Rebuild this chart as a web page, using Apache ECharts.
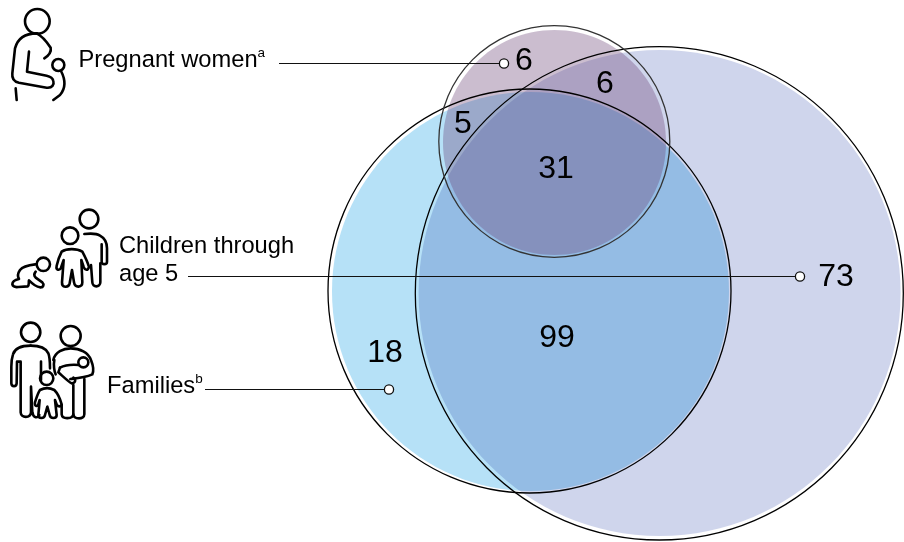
<!DOCTYPE html>
<html>
<head>
<meta charset="utf-8">
<title>Overlap of eligible groups</title>
<style>html,body{margin:0;padding:0;background:#fff}#chart{width:904px;height:542px}</style>
<script src="https://cdn.jsdelivr.net/npm/echarts@6/dist/echarts.min.js"></script>
</head>
<body>
<div id="chart"></div>
<script>
// Venn regions: the count printed inside each one and where it is printed
const regionValues = [6, 6, 5, 31, 99, 73, 18];
const regionX = [524, 605, 463, 556, 557, 836, 385];
const regionY = [61, 84, 124, 169, 338, 277, 353];

// The three sets, in drawing order: children, families, pregnant women
const setCentreX = [659.3, 529.5, 554.3];
const setCentreY = [293.3, 291, 141.5];
const setRadiusX = [244, 201.5, 115.5];
const setRadiusY = [246.7, 202, 115.8];
const fillCentreX = [659.6, 530.5, 554.5];
const fillCentreY = [293, 291.5, 142.5];
const fillRadiusX = [241, 198.5, 111.5];
const fillRadiusY = [243, 199.5, 112.5];
const setColours = ['#CFD5EC', '#B6E1F7', 'rgba(106,66,118,0.35)'];
const setOutlines = ['#000', '#000', '#333'];

// Leader lines from the group names to their marker dots
const leaderStartX = [279, 188, 205];
const leaderEndX = [504, 800, 389];
const leaderY = [63.5, 276.5, 389.5];

const STROKE = '#000';
const FONT = '"Liberation Sans", Arial, sans-serif';

function icon(x, y, paths, circles) {
  return { x, y, paths, circles };
}

const pregnantIcon = icon(5, 5, [
  'M95 85 C60 85 38 100 30 130 L22 205 C20 222 28 230 42 233 L125 248 C142 250 148 238 145 228 C143 218 135 214 125 212 L66 200 L72 140',
  'M95 85 C110 92 125 110 137 128 C140 142 130 152 118 160',
  'M168 198 C182 225 182 250 165 270 L145 285',
  'M32 250 L35 285'
], [[97, 49, 37], [160, 180, 18]]);

const childrenIcon = icon(5, 205, [
  'M238 87 C255 85 275 85 285 92 C300 100 306 115 306 130 L306 170 C306 180 290 180 290 170 L290 118',
  'M286 175 L286 232 C286 248 262 248 262 232 L258 180',
  'M170 140 C185 130 215 130 232 140 C240 155 248 172 252 186 C248 198 240 196 236 186 L229 165 L232 232 C232 248 210 250 207 232 L201 195 L194 235 C190 250 170 248 171 232 L176 165 L168 188 C164 198 152 196 155 182 C158 168 165 150 170 140 Z',
  'M92 178 C75 180 55 182 45 195 C38 205 36 212 42 222 C32 224 22 230 22 238 C24 248 32 247 40 246 L68 244 C74 240 70 230 72 226 C82 236 92 245 105 247 C116 248 118 238 112 232 L92 218 C86 212 88 205 92 200'
], [[252, 42, 28], [195, 92, 25], [115, 178, 20]]);

const familiesIcon = icon(5, 315, [
  'M77 92 C50 92 30 98 24 118 C20 130 19 145 19 155 L19 205 C20 216 34 216 35 205 L36 140 L47 140 L47 292 C48 310 76 310 78 292 L78 215 L82 292 C85 310 98 310 103 300',
  'M77 92 C100 92 122 98 130 115 C134 125 135 135 135 160',
  'M108 140 L108 195',
  'M145 135 C150 110 175 100 197 100 C225 100 250 112 258 135 C262 145 268 165 262 178 C240 188 215 190 196 192',
  'M165 158 L160 172 C175 185 190 200 200 205 C210 205 215 195 205 188',
  'M165 158 C180 150 200 148 222 150',
  'M148 135 C145 150 148 170 152 178',
  'M238 192 L238 298 C238 314 207 314 205 298 L205 210',
  'M205 298 C203 312 172 314 170 298 L170 270',
  'M105 225 C118 218 135 218 148 225 C158 235 165 250 170 268 C168 276 158 276 155 268 L150 255 L155 300 C155 312 136 312 134 300 L127 275 L120 300 C118 312 100 312 100 300 L104 255 L100 268 C96 276 88 274 90 262 C94 250 98 235 105 225 Z'
], [[77, 52, 29], [197, 63, 30], [125, 190, 20], [235, 142, 15]]);

const groupIcons = [pregnantIcon, childrenIcon, familiesIcon];

function text(content, x, y, rich) {
  return {
    type: 'text', x, y, silent: true,
    style: { text: content, font: '23.7px ' + FONT, fill: '#000', rich, lineHeight: 27, verticalAlign: 'middle' }
  };
}

const superscript = {
  n: { fontSize: 23.7, fontFamily: 'Liberation Sans', fill: '#000', lineHeight: 27 },
  s: { fontSize: 13.5, fontFamily: 'Liberation Sans', fill: '#000', verticalAlign: 'top', lineHeight: 27 }
};

// One filled disc per set, positioned through the hidden axes
function discItem(params, api) {
  const c = api.coord([api.value(0), api.value(1)]);
  const s = api.size([api.value(2), api.value(3)]);
  return {
    type: 'ellipse',
    shape: { cx: c[0], cy: c[1], rx: s[0], ry: s[1] },
    style: { fill: setColours[api.value(4)] }
  };
}
const discData = setColours.map((_, i) => [fillCentreX[i], fillCentreY[i], fillRadiusX[i], fillRadiusY[i], i]);

const chart = echarts.init(document.getElementById('chart'), null, { renderer: 'canvas' });
chart.setOption({
  animation: false,
  backgroundColor: '#fff',
  grid: { left: 0, right: 0, top: 0, bottom: 0 },
  xAxis: { type: 'value', min: 0, max: 904, show: false },
  yAxis: { type: 'value', min: 0, max: 542, inverse: true, show: false },
  graphic: [
    text('{n|Pregnant women}{s|a}', 78.5, 60, superscript),
    text('Children through', 119, 246),
    text('age 5', 119, 274),
    text('{n|Families}{s|b}', 107, 386, superscript)
  ],
  series: [
    {
      // Line-art pictograms beside the group names
      type: 'custom', silent: true, z: 1,
      coordinateSystem: 'none',
      data: groupIcons.map((_, i) => [i]),
      renderItem(params, api) {
        const ic = groupIcons[api.value(0)];
        const stroke = { fill: null, stroke: STROKE, lineWidth: 7.8, lineCap: 'round', lineJoin: 'round' };
        return {
          type: 'group', x: ic.x, y: ic.y, scaleX: 1 / 3, scaleY: 1 / 3,
          children: ic.paths.map(d => ({ type: 'path', shape: { pathData: d }, style: stroke }))
            .concat(ic.circles.map(c => ({ type: 'circle', shape: { cx: c[0], cy: c[1], r: c[2] }, style: stroke })))
        };
      }
    },
    {
      // The two large discs darken where they overlap
      type: 'custom', silent: true, z: 1,
      blendMode: 'multiply',
      coordinateSystem: 'cartesian2d',
      data: discData.slice(0, 2),
      renderItem: discItem
    },
    {
      // The pregnant-women disc sits on top as a translucent tint
      type: 'custom', silent: true, z: 1,
      coordinateSystem: 'cartesian2d',
      data: discData.slice(2),
      renderItem: discItem
    },
    {
      type: 'custom', silent: true, z: 2,
      coordinateSystem: 'cartesian2d',
      data: setOutlines.map((_, i) => [setCentreX[i], setCentreY[i], setRadiusX[i], setRadiusY[i], i]),
      renderItem(params, api) {
        const c = api.coord([api.value(0), api.value(1)]);
        const s = api.size([api.value(2), api.value(3)]);
        return {
          type: 'ellipse',
          shape: { cx: c[0], cy: c[1], rx: s[0], ry: s[1] },
          style: { fill: null, stroke: setOutlines[api.value(4)], lineWidth: 1.3 }
        };
      }
    },
    {
      type: 'custom', silent: true, z: 3,
      coordinateSystem: 'cartesian2d',
      data: leaderY.map((y, i) => [leaderStartX[i], y, leaderEndX[i]]),
      renderItem(params, api) {
        const a = api.coord([api.value(0), api.value(1)]);
        const b = api.coord([api.value(2), api.value(1)]);
        return {
          type: 'group',
          children: [
            { type: 'line', shape: { x1: a[0], y1: a[1], x2: b[0], y2: b[1] }, style: { stroke: '#111', lineWidth: 1.2 } },
            { type: 'circle', shape: { cx: b[0], cy: b[1], r: 4.6 }, style: { fill: '#fff', stroke: '#111', lineWidth: 1.3 } }
          ]
        };
      }
    },
    {
      type: 'scatter', silent: true, z: 4,
      symbolSize: 1,
      itemStyle: { color: 'transparent', opacity: 1 },
      data: regionValues.map((v, i) => [regionX[i], regionY[i], v]),
      label: {
        show: true, position: 'inside', color: '#000',
        fontFamily: 'Liberation Sans', fontSize: 32,
        formatter: p => String(p.value[2])
      }
    }
  ]
});
</script>
</body>
</html>
